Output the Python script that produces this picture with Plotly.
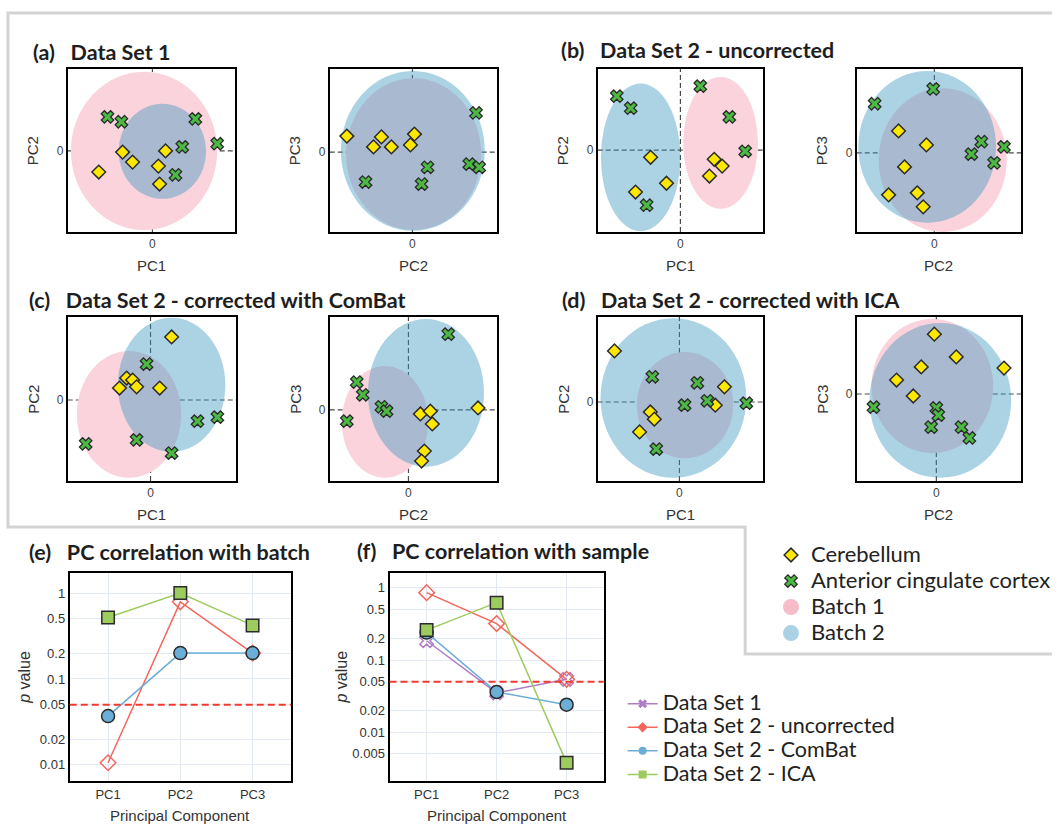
import math
import plotly.graph_objects as go

W, H = 1056, 824

# ---------------------------------------------------------------------------
# PCA scores (arbitrary score units).  cb = Cerebellum, acc = Anterior
# cingulate cortex.  Batch ellipses are (centre x, centre y, radius x, radius y).
# ---------------------------------------------------------------------------
# (a) Data Set 1: PC1 vs PC2
a1_cb_x = [-0.75, -0.50, -1.35, 0.33, 0.15, 0.18]
a1_cb_y = [-0.03, -0.28, -0.53, 0.00, -0.38, -0.83]
a1_acc_x = [-1.13, -0.78, 1.08, 1.63, 0.75, 0.58]
a1_acc_y = [0.85, 0.73, 0.80, 0.18, 0.10, -0.60]
a1_batch1 = [-0.21, 0.00, 1.84, 1.98]
a1_batch2 = [0.25, -0.01, 1.10, 1.19]

# (a) Data Set 1: PC2 vs PC3
a2_cb_x = [-1.65, -0.98, -0.78, -0.53, 0.05, -0.05]
a2_cb_y = [0.40, 0.13, 0.38, 0.13, 0.45, 0.18]
a2_acc_x = [1.60, 1.43, 1.68, 0.38, 0.23, -1.18]
a2_acc_y = [0.98, -0.30, -0.38, -0.38, -0.80, -0.75]
a2_batch1 = [0.03, -0.05, 1.70, 1.90]
a2_batch2 = [0.01, 0.03, 1.81, 2.00]

# (b) Data Set 2 uncorrected: PC1 vs PC2
b1_cb_x = [-0.75, -0.35, -1.13, 0.85, 1.05, 0.73]
b1_cb_y = [-0.18, -0.83, -1.05, -0.23, -0.40, -0.65]
b1_acc_x = [-1.60, -1.25, -0.85, 0.50, 1.23, 1.63]
b1_acc_y = [1.35, 1.05, -1.38, 1.60, 0.83, -0.03]
b1_batch1 = [1.01, 0.18, 0.94, 1.65]
b1_batch2 = [-1.00, -0.18, 1.00, 1.85]

# (b) Data Set 2 uncorrected: PC2 vs PC3
b2_cb_x = [-0.90, -0.20, -0.75, -1.15, -0.43, -0.28]
b2_cb_y = [0.55, 0.20, -0.35, -1.05, -1.00, -1.35]
b2_acc_x = [-1.50, -0.03, 1.18, 0.93, 1.75, 1.50]
b2_acc_y = [1.23, 1.60, 0.28, -0.03, 0.15, -0.25]
b2_batch1 = [0.21, -0.18, 1.61, 1.80]
b2_batch2 = [-0.18, 0.15, 1.73, 1.90]

# (c) Data Set 2 ComBat: PC1 vs PC2
c1_cb_x = [0.53, -0.60, -0.45, -0.35, -0.78, 0.23]
c1_cb_y = [1.58, 0.55, 0.50, 0.33, 0.30, 0.30]
c1_acc_x = [-0.10, -1.63, -0.35, 0.53, 1.18, 1.68]
c1_acc_y = [0.90, -1.10, -1.00, -1.33, -0.53, -0.43]
c1_batch1 = [-0.54, -0.36, 1.31, 1.59]
c1_batch2 = [0.53, 0.38, 1.35, 1.68]

# (c) Data Set 2 ComBat: PC2 vs PC3
c2_cb_x = [1.75, 0.30, 0.55, 0.60, 0.40, 0.33]
c2_cb_y = [0.05, -0.10, -0.03, -0.35, -1.03, -1.28]
c2_acc_x = [1.00, -1.30, -1.15, -0.68, -0.55, -1.55]
c2_acc_y = [1.90, 0.70, 0.38, 0.08, -0.03, -0.28]
c2_batch1 = [-0.59, -0.30, 1.09, 1.40]
c2_batch2 = [0.44, 0.43, 1.46, 1.85]

# (d) Data Set 2 ICA: PC1 vs PC2
d1_cb_x = [-1.63, 1.13, 0.90, -0.73, -0.63, -1.00]
d1_cb_y = [1.28, 0.38, -0.08, -0.25, -0.43, -0.75]
d1_acc_x = [-0.68, 0.45, 0.70, 0.13, 1.68, -0.58]
d1_acc_y = [0.63, 0.48, 0.03, -0.08, -0.03, -1.18]
d1_batch1 = [0.14, -0.08, 1.21, 1.33]
d1_batch2 = [-0.15, 0.10, 1.83, 2.00]

# (d) Data Set 2 ICA: PC2 vs PC3
d2_cb_x = [-0.05, 0.50, 1.70, -0.38, -1.00, -0.58]
d2_cb_y = [1.50, 0.93, 0.65, 0.68, 0.35, -0.05]
d2_acc_x = [-1.58, 0.00, 0.05, -0.13, 0.63, 0.83]
d2_acc_y = [-0.33, -0.35, -0.53, -0.83, -0.83, -1.10]
d2_batch1 = [-0.10, 0.20, 1.53, 1.68]
d2_batch2 = [0.10, -0.16, 1.78, 1.94]

# ---------------------------------------------------------------------------
# p values of PC correlation tests
# ---------------------------------------------------------------------------
pcs = ["PC1", "PC2", "PC3"]
p_threshold = 0.05

batch_p_uncorrected = [0.0106, 0.79, 0.20]
batch_p_combat = [0.037, 0.20, 0.20]
batch_p_ica = [0.52, 1.0, 0.42]

sample_p_ds1 = [0.185, 0.035, 0.054]
sample_p_uncorrected = [0.86, 0.32, 0.054]
sample_p_combat = [0.24, 0.036, 0.024]
sample_p_ica = [0.26, 0.625, 0.00375]

# log-axis tick labels
batch_ticks = [1, 0.5, 0.2, 0.1, 0.05, 0.02, 0.01]
sample_ticks = [1, 0.5, 0.2, 0.1, 0.05, 0.02, 0.01, 0.005]

# ---------------------------------------------------------------------------
# styling
# ---------------------------------------------------------------------------
YELLOW = "#ffe800"
GREEN = "#4cb944"
EDGE = "#2b2b2b"
PINK = "#fad3dc"
BLUE = "rgba(57,150,190,0.42)"
PINK_KEY = "#f6bcc7"
BLUE_KEY = "#abd1e5"

C_DS1 = "#b07cc6"
C_UNC = "#f4665c"
C_CB = "#6baed6"
C_ICA = "#9dcc5e"

TITLE_FONT = dict(family="Lato", size=21.5, color="#1e1e1e")
AX_FONT = dict(family="Liberation Sans, Arial", size=15, color="#333")
TICK_FONT = dict(family="Liberation Sans, Arial", size=12, color="#444")


def xdom(p0, p1):
    return [p0 / W, p1 / W]


def ydom(p0, p1):
    return [1 - p1 / H, 1 - p0 / H]


def key_text(txt, size):
    return f"<span style='font-size:{size}px'>{txt}</span>"


# score panels: data, labels, box in page pixels (left, right, top, bottom), ranges
score_panels = [
    dict(cb=(a1_cb_x, a1_cb_y), acc=(a1_acc_x, a1_acc_y), b1=a1_batch1, b2=a1_batch2,
         lab=("PC1", "PC2"), box=(68, 236, 69, 232), xr=(-2.13, 2.08), yr=(-2.03, 2.05)),
    dict(cb=(a2_cb_x, a2_cb_y), acc=(a2_acc_x, a2_acc_y), b1=a2_batch1, b2=a2_batch2,
         lab=("PC2", "PC3"), box=(331, 499, 69, 232), xr=(-2.08, 2.13), yr=(-2.00, 2.08)),
    dict(cb=(b1_cb_x, b1_cb_y), acc=(b1_acc_x, b1_acc_y), b1=b1_batch1, b2=b1_batch2,
         lab=("PC1", "PC2"), box=(600, 766, 69, 232), xr=(-2.08, 2.08), yr=(-2.05, 2.03)),
    dict(cb=(b2_cb_x, b2_cb_y), acc=(b2_acc_x, b2_acc_y), b1=b2_batch1, b2=b2_batch2,
         lab=("PC2", "PC3"), box=(860, 1025, 69, 232), xr=(-1.95, 2.18), yr=(-1.98, 2.10)),
    dict(cb=(c1_cb_x, c1_cb_y), acc=(c1_acc_x, c1_acc_y), b1=c1_batch1, b2=c1_batch2,
         lab=("PC1", "PC2"), box=(68, 237, 317, 481), xr=(-2.08, 2.15), yr=(-2.03, 2.08)),
    dict(cb=(c2_cb_x, c2_cb_y), acc=(c2_acc_x, c2_acc_y), b1=c2_batch1, b2=c2_batch2,
         lab=("PC2", "PC3"), box=(331, 499, 317, 481), xr=(-1.98, 2.23), yr=(-1.78, 2.33)),
    dict(cb=(d1_cb_x, d1_cb_y), acc=(d1_acc_x, d1_acc_y), b1=d1_batch1, b2=d1_batch2,
         lab=("PC1", "PC2"), box=(600, 766, 317, 481), xr=(-2.05, 2.10), yr=(-1.98, 2.13)),
    dict(cb=(d2_cb_x, d2_cb_y), acc=(d2_acc_x, d2_acc_y), b1=d2_batch1, b2=d2_batch2,
         lab=("PC2", "PC3"), box=(860, 1025, 317, 481), xr=(-2.00, 2.13), yr=(-2.18, 1.93)),
]

fig = go.Figure()
shapes = []
annotations = []
layout_axes = {}


def axis_names(n):
    s = "" if n == 1 else str(n)
    return "x" + s, "y" + s, "xaxis" + s, "yaxis" + s


for i, p in enumerate(score_panels):
    n = i + 1
    xa, ya, xkey, ykey = axis_names(n)
    l, r, t, b = p["box"]
    frame = dict(showline=True, mirror=True, linecolor="black", linewidth=2,
                 showgrid=False, zeroline=False, ticks="", tickfont=TICK_FONT,
                 tickvals=[0], ticktext=["0"], fixedrange=True)
    layout_axes[xkey] = dict(frame, domain=xdom(l, r), range=list(p["xr"]), anchor=ya)
    layout_axes[ykey] = dict(frame, domain=ydom(t, b), range=list(p["yr"]), anchor=xa)

    # batch ellipses: batch 1 underneath, translucent batch 2 on top
    for ell, col in ((p["b1"], PINK), (p["b2"], BLUE)):
        cx, cy, rx, ry = ell
        shapes.append(dict(type="circle", xref=xa, yref=ya, layer="below",
                           x0=cx - rx, x1=cx + rx, y0=cy - ry, y1=cy + ry,
                           fillcolor=col, line=dict(width=0)))
    # dashed cross-hair through the origin
    for colr, w, dash in (("white", 1.6, "solid"), ("#4a4a4a", 1.2, "5px,3px")):
        shapes.append(dict(type="line", xref=xa + " domain", x0=0, x1=1, yref=ya, y0=0, y1=0,
                           layer="below", line=dict(color=colr, width=w, dash=dash)))
        shapes.append(dict(type="line", xref=xa, x0=0, x1=0, yref=ya + " domain", y0=0, y1=1,
                           layer="below", line=dict(color=colr, width=w, dash=dash)))

    fig.add_trace(go.Scatter(
        x=p["cb"][0], y=p["cb"][1], mode="markers", xaxis=xa, yaxis=ya,
        name=key_text("Cerebellum", 22), legend="legend", legendrank=1, showlegend=(n == 1),
        marker=dict(symbol="diamond", size=10.5, color=YELLOW, line=dict(color=EDGE, width=1.5)),
        hoverinfo="skip"))
    fig.add_trace(go.Scatter(
        x=p["acc"][0], y=p["acc"][1], mode="markers", xaxis=xa, yaxis=ya,
        name=key_text("Anterior cingulate cortex", 22), legend="legend", legendrank=2,
        showlegend=(n == 1),
        marker=dict(symbol="x", size=11, color=GREEN, line=dict(color=EDGE, width=1.3)),
        hoverinfo="skip"))

    annotations.append(dict(text=p["lab"][0], xref=xa + " domain", yref=ya + " domain",
                            x=0.5, y=0, xanchor="center", yanchor="middle", yshift=-33,
                            showarrow=False, font=AX_FONT))
    annotations.append(dict(text=p["lab"][1], xref=xa + " domain", yref=ya + " domain",
                            x=0, y=0.5, xanchor="center", yanchor="middle", xshift=-35,
                            textangle=-90, showarrow=False, font=AX_FONT))

# batch keys for the legend
fig.add_trace(go.Scatter(x=[None], y=[None], mode="markers", name=key_text("Batch 1", 22),
                         legend="legend", legendrank=3,
                         marker=dict(symbol="circle", size=16, color=PINK_KEY)))
fig.add_trace(go.Scatter(x=[None], y=[None], mode="markers", name=key_text("Batch 2", 22),
                         legend="legend", legendrank=4,
                         marker=dict(symbol="circle", size=16, color=BLUE_KEY)))

# ---------------------------------------------------------------------------
# p value panels
# ---------------------------------------------------------------------------
series_style = {
    "ds1": dict(color=C_DS1, marker=dict(symbol="x-open", size=12, color=C_DS1, line=dict(width=1.5))),
    "unc": dict(color=C_UNC, marker=dict(symbol="diamond-open", size=12, color=C_UNC, line=dict(width=1.5))),
    "cb": dict(color=C_CB, marker=dict(symbol="circle", size=13, color=C_CB, line=dict(color=EDGE, width=1.5))),
    "ica": dict(color=C_ICA, marker=dict(symbol="square", size=12.5, color=C_ICA, line=dict(color=EDGE, width=1.5))),
}

pval_panels = [
    dict(n=9, box=(70, 292, 573, 781), yr=(math.log10(0.0065), math.log10(1.71)), ticks=batch_ticks,
         series=[("unc", batch_p_uncorrected), ("cb", batch_p_combat), ("ica", batch_p_ica)],
         ylab_shift=-46),
    dict(n=10, box=(391, 606, 573, 781), yr=(math.log10(0.0021), math.log10(1.61)), ticks=sample_ticks,
         series=[("ds1", sample_p_ds1), ("unc", sample_p_uncorrected), ("cb", sample_p_combat),
                 ("ica", sample_p_ica)],
         ylab_shift=-49),
]

for p in pval_panels:
    n = p["n"]
    xa, ya, xkey, ykey = axis_names(n)
    l, r, t, b = p["box"]
    frame = dict(showline=True, mirror=True, linecolor="black", linewidth=2,
                 showgrid=True, gridcolor="#e3e9f1", gridwidth=1, zeroline=False, ticks="",
                 tickfont=dict(family="Liberation Sans, Arial", size=13, color="#333"),
                 fixedrange=True)
    layout_axes[xkey] = dict(frame, domain=xdom(l, r), anchor=ya, type="category",
                             categoryorder="array", categoryarray=pcs, range=[-0.53, 2.53])
    layout_axes[ykey] = dict(frame, domain=ydom(t, b), anchor=xa, type="log",
                             range=list(p["yr"]), tickvals=p["ticks"],
                             ticktext=[str(v) for v in p["ticks"]])
    shapes.append(dict(type="line", xref=xa + " domain", x0=0, x1=1, yref=ya,
                       y0=p_threshold, y1=p_threshold, layer="above",
                       line=dict(color="#f03a30", width=2, dash="7px,4px")))
    for key, vals in p["series"]:
        st = series_style[key]
        fig.add_trace(go.Scatter(x=pcs, y=vals, mode="lines+markers", xaxis=xa, yaxis=ya,
                                 line=dict(color=st["color"], width=1.5), marker=st["marker"],
                                 showlegend=False, hoverinfo="skip"))
    annotations.append(dict(text="Principal Component", xref=xa + " domain", yref=ya + " domain",
                            x=0.5, y=0, xanchor="center", yanchor="middle", yshift=-34,
                            showarrow=False, font=dict(family="Liberation Sans, Arial", size=15, color="#333")))
    annotations.append(dict(text="<i>p</i> value", xref=xa + " domain", yref=ya + " domain",
                            x=0, y=0.5, xanchor="center", yanchor="middle", xshift=p["ylab_shift"],
                            textangle=-90, showarrow=False,
                            font=dict(family="Liberation Sans, Arial", size=16, color="#333")))

# method keys for the second legend
for label, col, sym in (("Data Set 1", C_DS1, "x"), ("Data Set 2 - uncorrected", C_UNC, "diamond"),
                        ("Data Set 2 - ComBat", C_CB, "circle"), ("Data Set 2 - ICA", C_ICA, "square")):
    fig.add_trace(go.Scatter(x=[None], y=[None], mode="lines+markers", name=key_text(label, 21.5),
                             legend="legend2", xaxis="x10", yaxis="y10",
                             line=dict(color=col, width=1.5),
                             marker=dict(symbol=sym, size=8, color=col)))

# ---------------------------------------------------------------------------
# panel titles and grey frame
# ---------------------------------------------------------------------------
titles = [
    ("(a)", "Data Set 1", 31, 52),
    ("(b)", "Data Set 2 - uncorrected", 561, 50),
    ("(c)", "Data Set 2 - corrected with ComBat", 27, 300),
    ("(d)", "Data Set 2 - corrected with ICA", 562, 300),
    ("(e)", "PC correlation with batch", 27, 552),
    ("(f)", "PC correlation with sample", 356, 551),
]
for tag, txt, px, py in titles:
    annotations.append(dict(text="<b>" + tag + "\u00a0\u00a0\u00a0" + txt + "</b>",
                            xref="paper", yref="paper", x=px / W, y=1 - py / H,
                            xanchor="left", yanchor="middle", showarrow=False, font=TITLE_FONT))

frame_pts = [(1056, 13), (8, 13), (8, 527), (748, 527), (748, 654), (1056, 654)]
path = "M " + " L ".join(f"{x / W:.5f},{1 - y / H:.5f}" for x, y in frame_pts)
shapes.append(dict(type="path", xref="paper", yref="paper", path=path,
                   line=dict(color="#d3d3d3", width=3), layer="above"))

fig.update_layout(
    width=W, height=H, margin=dict(l=0, r=0, t=0, b=0),
    paper_bgcolor="white", plot_bgcolor="white",
    shapes=shapes, annotations=annotations,
    legend=dict(x=774 / W, y=1 - 537 / H, xanchor="left", yanchor="top",
                font=dict(family="Lato", size=17.7, color="#222"),
                bgcolor="rgba(0,0,0,0)", borderwidth=0, tracegroupgap=0, itemclick=False),
    legend2=dict(x=625 / W, y=1 - 687 / H, xanchor="left", yanchor="top",
                 font=dict(family="Lato", size=15.8, color="#222"),
                 bgcolor="rgba(0,0,0,0)", borderwidth=0, tracegroupgap=0, itemclick=False),
    showlegend=True,
    **layout_axes,
)

fig.write_html("out.html")
